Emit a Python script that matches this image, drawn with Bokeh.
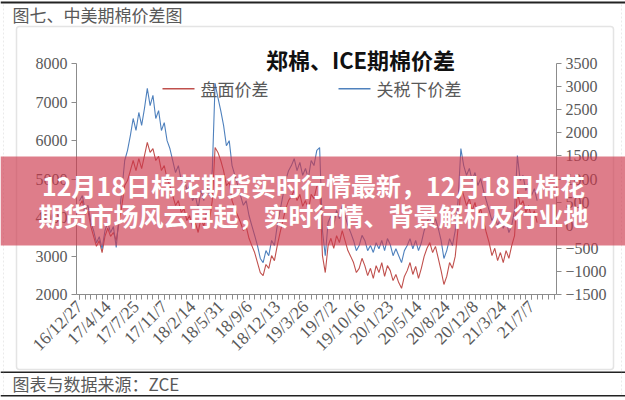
import numpy as np
from bokeh.plotting import figure
from bokeh.models import Range1d, LinearAxis, FixedTicker, Label, BoxAnnotation, PolyAnnotation
from bokeh.embed import file_html
from bokeh.resources import INLINE

# ---------------- data ----------------
tick_labels = ["16/12/27", "17/4/14", "17/7/25", "17/11/7", "18/2/14", "18/5/31",
               "18/9/6", "18/12/13", "19/3/26", "19/7/2", "19/10/16", "20/1/23",
               "20/5/14", "20/8/24", "20/12/8", "21/3/24", "21/7/7"]
label_step = 10  # samples between two labelled dates

# 盘面价差 (left axis, yuan/t)
spread_board = [
    4310, 4440, 4080, 4180, 3770, 3510, 3250, 3400, 3090, 3510,
    3720, 3510, 3610, 3400, 3870, 4310, 4830, 4960, 5220, 5480,
    5220, 5530, 5270, 5610, 5950, 5690, 5790, 5480, 5590, 5220,
    5350, 5010, 4830, 4570, 4310, 4440, 4130, 4230, 3920, 4050,
    3720, 3870, 3610, 3980, 3770, 4130, 3920, 4440, 5820, 5690,
    5480, 5220, 4830, 4910, 4440, 4230, 4050, 3870, 3660, 3770,
    3460, 3270, 3090, 2830, 2570, 2490, 2780, 2680, 3010, 2880,
    3270, 3610, 3920, 4230, 4440, 4550, 4700, 4440, 4600, 4290,
    4440, 4180, 4600, 4490, 4810, 4860, 3010, 2570, 3270, 3460,
    3200, 3530, 3350, 3660, 3400, 3140, 2990, 2830, 2570, 2680,
    2940, 2750, 2490, 2680, 2420, 2750, 2570, 2830, 2470, 2750,
    2620, 2360, 2520, 2310, 2160, 2470, 2620, 2830, 2520, 2730,
    2420, 2680, 2990, 3200, 3350, 3090, 3250, 2940, 2620, 2260,
    2470, 2830, 2680, 2990, 3720, 4830, 4570, 4310, 4490, 4180,
    4390, 4050, 4230, 3920, 3610, 3350, 3010, 3200, 2880, 3090,
    2830, 3140, 2940, 3270, 3530, 4700, 4310, 4440, 4130, 4310,
    3980, 4180, 3870,
]

# 关税下价差 (right axis, yuan/t)
spread_tariff = [
    530, 640, 320, 430, 60, -120, -380, -250, -510, -120,
    60, -160, -30, -480, 210, 750, 1400, 1620, 1940, 2310,
    2050, 2440, 2160, 2530, 2960, 2590, 2810, 2310, 2480, 2050,
    2220, 1830, 1660, 1400, 1140, 1290, 970, 1080, 750, 860,
    530, 640, 360, 750, 530, 860, 640, 1180, 3070, 2760,
    2480, 2160, 1720, 1830, 1290, 1080, 860, 640, 430, 530,
    210, -10, -220, -440, -720, -810, -550, -660, -330, -440,
    -10, 320, 640, 970, 1180, 1290, 1440, 1180, 1360, 1080,
    1230, 1010, 1400, 1290, 1620, 1680, -120, -660, 60, 210,
    -10, 320, 140, 430, 210, -10, -160, -330, -550, -440,
    -220, -330, -550, -440, -590, -380, -510, -330, -550, -290,
    -420, -660, -510, -660, -810, -550, -440, -290, -510, -330,
    -550, -380, -120, 60, 210, -10, 140, -70, -330, -720,
    -550, -290, -440, -120, 530, 1660, 1290, 1080, 1230, 970,
    1140, 860, 1010, 750, 530, 320, 100, 210, -10, 140,
    -70, 100, -160, -10, 320, 1510, 970, 1080, 750, 920,
    640, 790, 530,
]

left_ticks = [2000, 3000, 4000, 5000, 6000, 7000, 8000]
right_ticks = [-1500, -1000, -500, 0, 500, 1000, 1500, 2000, 2500, 3000, 3500]

# ---------------- layout constants ----------------
W, H = 625, 400
FL, FR, FT, FB = 76, 556, 63, 294   # plot-area edges in page pixels
X0PX, XSTEP = 79.0, 2.825           # pixel of first sample, pixels per sample

RED = "#C0504D"
BLUE = "#4F81BD"
AXIS = "#8C8C8C"
TXT = "#595959"
SERIF = "Liberation Serif"
CJK = "Noto Sans CJK SC"


def xdat(px):
    return (px - X0PX) / XSTEP


def lin_range(v_top, v_bot):
    # extend a value range that maps v_top->FT and v_bot->FB to the full canvas
    per_px = (v_top - v_bot) / (FB - FT)
    return Range1d(v_bot - (H - FB) * per_px, v_top + FT * per_px)


x = list(range(len(spread_board)))
label_pos = [i * label_step for i in range(len(tick_labels))]

p = figure(width=W, height=H, output_backend="svg", toolbar_location=None,
           x_range=Range1d(xdat(0), xdat(W)),
           y_range=lin_range(left_ticks[-1], left_ticks[0]),
           min_border=0)
p.extra_y_ranges = {"r": lin_range(right_ticks[-1], right_ticks[0])}
p.outline_line_color = None
p.background_fill_color = "white"
p.border_fill_color = "white"
p.xgrid.visible = False
p.ygrid.visible = False

x_left, x_right = xdat(FL), xdat(FR)

# left axis
ya = p.yaxis[0]
ya.ticker = FixedTicker(ticks=left_ticks)
ya.fixed_location = x_left
ya.bounds = (left_ticks[0], left_ticks[-1])
# right axis
ra = LinearAxis(y_range_name="r", ticker=FixedTicker(ticks=right_ticks))
ra.fixed_location = x_right
ra.bounds = (right_ticks[0], right_ticks[-1])
p.add_layout(ra, "right")
for ax in (ya, ra):
    ax.axis_line_color = AXIS
    ax.major_tick_line_color = AXIS
    ax.major_tick_out = 5
    ax.major_tick_in = 0
    ax.minor_tick_line_color = None
    ax.major_label_text_font = SERIF
    ax.major_label_text_font_size = "16px"
    ax.major_label_text_color = TXT
    ax.major_label_standoff = 4

# bottom axis
xa = p.xaxis[0]
minor = [i * 2 for i in range(0, 85)]
xa.ticker = FixedTicker(ticks=label_pos, minor_ticks=minor)
xa.major_label_overrides = {pos: lab for pos, lab in zip(label_pos, tick_labels)}
xa.major_label_orientation = np.pi / 4
xa.fixed_location = left_ticks[0]
xa.bounds = (x_left, x_right)
xa.axis_line_color = AXIS
xa.major_tick_line_color = AXIS
xa.minor_tick_line_color = AXIS
xa.major_tick_out = 5
xa.major_tick_in = 0
xa.minor_tick_out = 5
xa.minor_tick_in = 0
xa.major_label_text_font = SERIF
xa.major_label_text_font_size = "17.5px"
xa.major_label_text_color = TXT
xa.major_label_standoff = 4

# series
p.line(x, spread_board, color=RED, line_width=1.1)
p.line(x, spread_tariff, color=BLUE, line_width=1.1, y_range_name="r")


# ---------------- decorations (screen units; frame == canvas) ----------------
def sx(px):
    return px


def sy(py):
    return H - py


def hbar(x0, x1, y0, y1, color, alpha=1.0):
    p.add_layout(BoxAnnotation(left=sx(x0), right=sx(x1), top=sy(y0), bottom=sy(y1),
                               left_units="screen", right_units="screen",
                               top_units="screen", bottom_units="screen",
                               fill_color=color, fill_alpha=alpha, line_color=None))


def text(px, py, s, size, color=TXT, align="left", bold=False, font=CJK):
    p.add_layout(Label(x=sx(px), y=sy(py), x_units="screen", y_units="screen", text=s,
                       text_font=font, text_font_size=size, text_color=color,
                       text_align=align, text_baseline="middle",
                       text_font_style="bold" if bold else "normal"))


# card frame
hbar(0, W, 1, 3, "#222222")
hbar(0, W, 371, 372.5, "#222222")
hbar(0, W, 394.5, 396, "#222222")
for xx in (3, 621):
    p.add_layout(PolyAnnotation(xs=[sx(xx), sx(xx)], ys=[sy(4), sy(396)],
                                xs_units="screen", ys_units="screen",
                                fill_alpha=0, line_color="#BBBBBB", line_dash="2 2", line_width=1))
p.add_layout(BoxAnnotation(left=sx(16), right=sx(613), top=sy(26), bottom=sy(369),
                           left_units="screen", right_units="screen",
                           top_units="screen", bottom_units="screen",
                           fill_alpha=0, line_color="#A6A6A6", line_width=1.5, border_radius=3))

text(12, 14, "图七、中美期棉价差图", "17px")
text(12, 383, "图表与数据来源：ZCE", "17px")
text(360, 58, "郑棉、ICE期棉价差", "22px", color="#111111", align="center", bold=True)

# legend
hbar(162, 194, 87.5, 89, RED)
text(200, 88, "盘面价差", "17px")
hbar(338, 370, 87.5, 89, BLUE)
text(376, 88, "关税下价差", "17px")

# overlay banner
hbar(0, W, 156, 245, "#CD374B", 0.65)
text(313, 184, "12月18日棉花期货实时行情最新，12月18日棉花", "25px", color="white",
     align="center", bold=True)
text(313, 214, "期货市场风云再起，实时行情、背景解析及行业地", "25px", color="white",
     align="center", bold=True)

open("out.html", "w").write(file_html(p, INLINE))
